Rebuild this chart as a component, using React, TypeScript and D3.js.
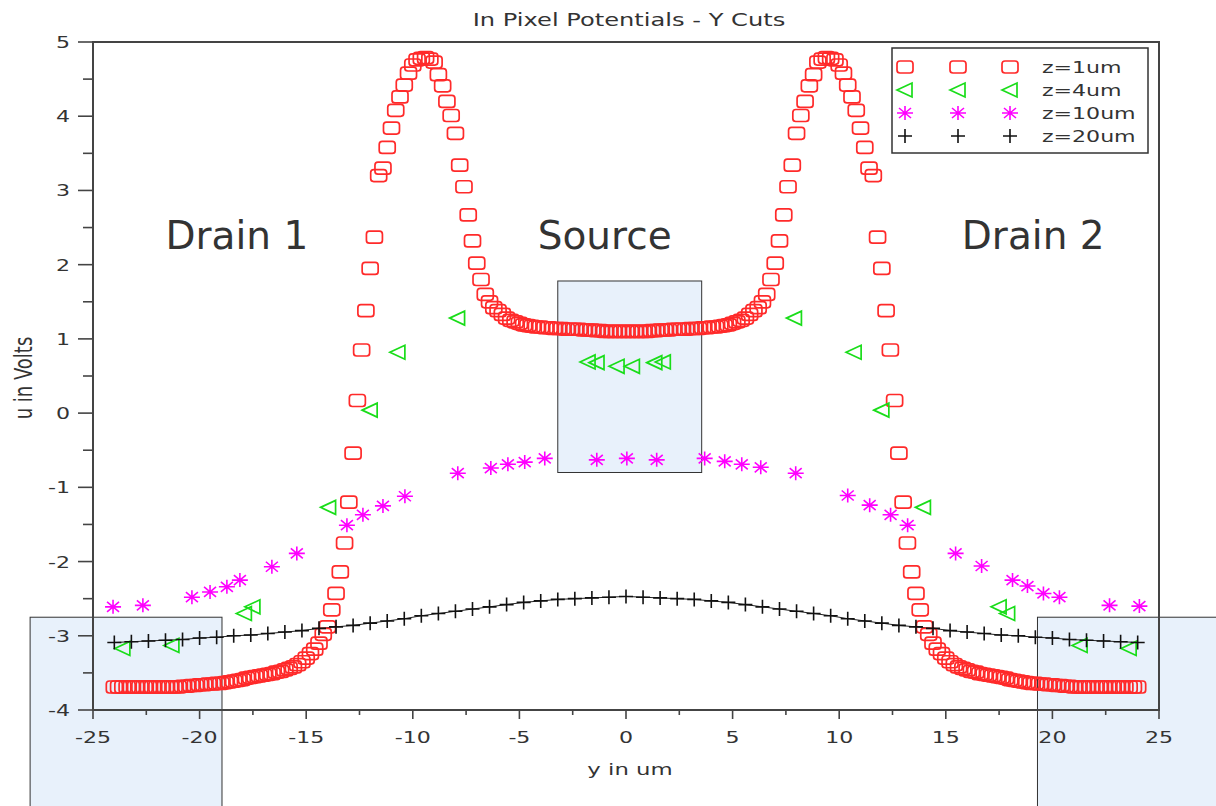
import React, { useEffect, useRef } from "react";
import * as d3 from "d3";

// z = 1um, sampled every 0.2 um from -24 to 24
const Z1_START = -24;
const Z1_STEP = 0.2;
const Z1_U = [
  -3.69, -3.69, -3.69, -3.69, -3.69, -3.69, -3.69, -3.69, -3.69, -3.69,
  -3.69, -3.69, -3.69, -3.69, -3.69, -3.69, -3.68, -3.68, -3.67, -3.67,
  -3.66, -3.66, -3.65, -3.65, -3.64, -3.64, -3.63, -3.62, -3.61, -3.60,
  -3.59, -3.57, -3.56, -3.55, -3.54, -3.53, -3.52, -3.51, -3.49, -3.48,
  -3.46, -3.44, -3.42, -3.39, -3.35, -3.30, -3.24, -3.18, -3.10, -2.98,
  -2.88, -2.65, -2.43, -2.14, -1.75, -1.20, -0.54, 0.17, 0.85, 1.38,
  1.95, 2.37, 3.20, 3.30, 3.58, 3.84, 4.08, 4.26, 4.42, 4.58,
  4.69, 4.76, 4.78, 4.79, 4.77, 4.73, 4.56, 4.41, 4.20, 4.01,
  3.77, 3.34, 3.05, 2.67, 2.32, 2.02, 1.80, 1.60, 1.50, 1.42,
  1.38, 1.33, 1.28, 1.25, 1.23, 1.21, 1.19, 1.18, 1.17, 1.16,
  1.16, 1.15, 1.15, 1.14, 1.14, 1.14, 1.13, 1.13, 1.13, 1.13,
  1.12, 1.12, 1.12, 1.11, 1.11, 1.10, 1.10, 1.10, 1.10, 1.10,
  1.10,
  1.10, 1.10, 1.10, 1.10, 1.10, 1.11, 1.11, 1.12, 1.12, 1.12,
  1.13, 1.13, 1.13, 1.13, 1.14, 1.14, 1.14, 1.15, 1.15, 1.16,
  1.16, 1.17, 1.18, 1.19, 1.21, 1.23, 1.25, 1.28, 1.33, 1.38,
  1.42, 1.50, 1.60, 1.80, 2.02, 2.32, 2.67, 3.05, 3.34, 3.77,
  4.01, 4.20, 4.41, 4.56, 4.73, 4.77, 4.79, 4.78, 4.76, 4.69,
  4.58, 4.42, 4.26, 4.08, 3.84, 3.58, 3.30, 3.20, 2.37, 1.95,
  1.38, 0.85, 0.17, -0.54, -1.20, -1.75, -2.14, -2.43, -2.65, -2.88,
  -2.98, -3.10, -3.18, -3.24, -3.30, -3.35, -3.39, -3.42, -3.44, -3.46,
  -3.48, -3.49, -3.51, -3.52, -3.53, -3.54, -3.55, -3.56, -3.57, -3.59,
  -3.60, -3.61, -3.62, -3.63, -3.64, -3.64, -3.65, -3.65, -3.66, -3.66,
  -3.67, -3.67, -3.68, -3.68, -3.69, -3.69, -3.69, -3.69, -3.69, -3.69,
  -3.69, -3.69, -3.69, -3.69, -3.69, -3.69, -3.69, -3.69, -3.69, -3.69,
];

// z = 4um
const Z4_Y = [-23.6, -21.3, -17.9, -17.5, -13.95, -12.0, -10.7, -7.9, -1.78, -1.36, -0.42, 0.3, 1.35, 1.75, 7.9, 10.7, 12.0, 13.95, 17.5, 17.9, 21.3, 23.6];
const Z4_U = [-3.17, -3.13, -2.70, -2.61, -1.27, 0.04, 0.82, 1.28, 0.69, 0.68, 0.63, 0.63, 0.68, 0.69, 1.28, 0.82, 0.04, -1.27, -2.61, -2.70, -3.13, -3.17];

// z = 10um
const Z10_Y = [-24.06, -22.66, -20.36, -19.51, -18.72, -18.11, -16.61, -15.44, -13.09, -12.34, -11.4, -10.37, -7.89, -6.34, -5.54, -4.75, -3.81, -1.37, 0.04, 1.44, 3.69, 4.63, 5.43, 6.32, 7.96, 10.4, 11.43, 12.41, 13.21, 15.46, 16.68, 18.13, 18.83, 19.58, 20.33, 22.68, 24.08];
const Z10_U = [-2.61, -2.59, -2.48, -2.41, -2.34, -2.25, -2.07, -1.89, -1.51, -1.37, -1.25, -1.12, -0.81, -0.74, -0.69, -0.66, -0.61, -0.63, -0.61, -0.63, -0.61, -0.65, -0.69, -0.73, -0.81, -1.11, -1.24, -1.37, -1.51, -1.89, -2.06, -2.25, -2.33, -2.43, -2.48, -2.59, -2.60];

// z = 20um, every 0.8 um
const Z20_START = -24;
const Z20_STEP = 0.8;
const Z20_U = [
  -3.09, -3.08, -3.07, -3.06, -3.05, -3.03, -3.02, -3.00, -2.99, -2.97,
  -2.95, -2.93, -2.90, -2.88, -2.86, -2.83, -2.80, -2.77, -2.73, -2.70,
  -2.67, -2.64, -2.61, -2.58, -2.55, -2.53, -2.51, -2.50, -2.49, -2.48,
  -2.47,
  -2.48, -2.49, -2.50, -2.51, -2.53, -2.55, -2.58, -2.61, -2.64, -2.67,
  -2.70, -2.73, -2.77, -2.80, -2.83, -2.86, -2.88, -2.90, -2.93, -2.95,
  -2.97, -2.99, -3.00, -3.02, -3.03, -3.05, -3.06, -3.07, -3.08, -3.09,
];

const LEGEND = ["z=1um", "z=4um", "z=10um", "z=20um"];
const REGION_LABELS = [
  { text: "Drain 1", y: -18.25 },
  { text: "Source", y: -1.0 },
  { text: "Drain 2", y: 19.1 },
];
// highlight boxes in data units [y0, y1, u0, u1]
const BOXES = [
  [-3.2, 3.55, 1.78, -0.8],
  [-27.95, -18.95, -2.75, -5.5],
  [19.3, 28.0, -2.75, -5.5],
];

const W = 1216;
const H = 806;
const SX = 1.38; // the original plot is stretched horizontally
const FONT = "DejaVu Sans, sans-serif";
const RED = "#ff2a2a";
const GREEN = "#19dd19";
const MAGENTA = "#ff00ff";

function drawMarker(g, kind, cx, cy) {
  if (kind === 0) {
    g.append("rect").attr("x", cx - 8).attr("y", cy - 6).attr("width", 16).attr("height", 12).attr("rx", 3)
      .attr("fill", "none").attr("stroke", RED).attr("stroke-width", 1.7);
  } else if (kind === 1) {
    g.append("path").attr("d", `M${cx - 8},${cy} L${cx + 7},${cy - 7} L${cx + 7},${cy + 7} Z`)
      .attr("fill", "none").attr("stroke", GREEN).attr("stroke-width", 1.7);
  } else if (kind === 2) {
    g.append("path")
      .attr("d", `M${cx},${cy - 7} L${cx},${cy + 7} M${cx - 8},${cy} L${cx + 8},${cy} M${cx - 6},${cy - 5} L${cx + 6},${cy + 5} M${cx - 6},${cy + 5} L${cx + 6},${cy - 5}`)
      .attr("stroke", MAGENTA).attr("stroke-width", 1.6);
  } else {
    g.append("path").attr("d", `M${cx - 7},${cy} L${cx + 7},${cy} M${cx},${cy - 7} L${cx},${cy + 7}`)
      .attr("stroke", "#111").attr("stroke-width", 1.6);
  }
}

function stext(g, x, y, str, size, anchor, rotate = false) {
  return g.append("text")
    .attr("transform", `translate(${x},${y}) scale(${SX},1)${rotate ? " rotate(-90)" : ""}`)
    .attr("text-anchor", anchor).attr("font-family", FONT).attr("font-size", size)
    .attr("fill", "#333").text(str);
}

export default function App() {
  const ref = useRef(null);

  useEffect(() => {
    const svg = d3.select(ref.current);
    svg.selectAll("*").remove();

    const x = d3.scaleLinear().domain([-25, 25]).range([93, 1159]);
    const y = d3.scaleLinear().domain([-4, 5]).range([710, 42]);

    svg.append("rect").attr("width", W).attr("height", H).attr("fill", "#fff");

    // highlight boxes
    BOXES.forEach(([a, b, c, d]) => {
      svg.append("rect").attr("x", x(a)).attr("y", y(c)).attr("width", x(b) - x(a)).attr("height", y(d) - y(c))
        .attr("fill", "#e8f1fb").attr("stroke", "#333").attr("stroke-width", 1);
    });

    // title and axis labels
    stext(svg, 629, 26, "In Pixel Potentials - Y Cuts", 17.5, "middle");
    stext(svg, 630, 775, "y in um", 16.5, "middle");
    stext(svg, 32, 378, "u in Volts", 18, "middle", true);

    // ticks
    const yTicks = d3.range(-4, 5.01, 1);
    const yMinor = d3.range(-3.5, 5, 1);
    yTicks.forEach((t) => {
      svg.append("line").attr("x1", 78).attr("x2", 93).attr("y1", y(t)).attr("y2", y(t)).attr("stroke", "#444").attr("stroke-width", 1.6);
      stext(svg, 70, y(t) + 6, String(t), 16, "end");
    });
    yMinor.forEach((t) => {
      svg.append("line").attr("x1", 83).attr("x2", 93).attr("y1", y(t)).attr("y2", y(t)).attr("stroke", "#444").attr("stroke-width", 1.6);
    });
    const xTicks = d3.range(-25, 25.01, 5);
    const xMinor = d3.range(-22.5, 25, 5);
    xTicks.forEach((t) => {
      svg.append("line").attr("x1", x(t)).attr("x2", x(t)).attr("y1", 710).attr("y2", 719).attr("stroke", "#444").attr("stroke-width", 1.6);
      stext(svg, x(t), 743, String(t), 16, "middle");
    });
    xMinor.forEach((t) => {
      svg.append("line").attr("x1", x(t)).attr("x2", x(t)).attr("y1", 710).attr("y2", 715).attr("stroke", "#444").attr("stroke-width", 1.6);
    });

    // frame
    svg.append("rect").attr("x", 93).attr("y", 42).attr("width", 1159 - 93).attr("height", 710 - 42)
      .attr("fill", "none").attr("stroke", "#444").attr("stroke-width", 2);

    // region labels
    REGION_LABELS.forEach((d) => {
      svg.append("text").attr("x", x(d.y)).attr("y", 249).attr("text-anchor", "middle")
        .attr("font-family", FONT).attr("font-size", 39).attr("fill", "#333").text(d.text);
    });

    const data = svg.append("g");

    // z=20um line + markers
    const z20 = Z20_U.map((u, i) => [Z20_START + i * Z20_STEP, u]);
    data.append("path").attr("d", d3.line().x((d) => x(d[0])).y((d) => y(d[1]))(z20))
      .attr("fill", "none").attr("stroke", "#222").attr("stroke-width", 1);

    Z1_U.forEach((u, i) => drawMarker(data, 0, x(Z1_START + i * Z1_STEP), y(u)));
    Z4_U.forEach((u, i) => drawMarker(data, 1, x(Z4_Y[i]), y(u)));
    Z10_U.forEach((u, i) => drawMarker(data, 2, x(Z10_Y[i]), y(u)));
    z20.forEach((d) => drawMarker(data, 3, x(d[0]), y(d[1])));

    // legend
    const lg = svg.append("g");
    lg.append("rect").attr("x", 892).attr("y", 48).attr("width", 256).attr("height", 105)
      .attr("fill", "#fff").attr("stroke", "#333").attr("stroke-width", 1.5);
    LEGEND.forEach((name, i) => {
      const cy = 67 + i * 23;
      [905, 958, 1010].forEach((cx) => drawMarker(lg, i, cx, cy));
      stext(lg, 1042, cy + 6, name, 16, "start");
    });
  }, []);

  return <svg ref={ref} width={W} height={H} style={{ position: "absolute", left: 0, top: 0 }} />;
}
